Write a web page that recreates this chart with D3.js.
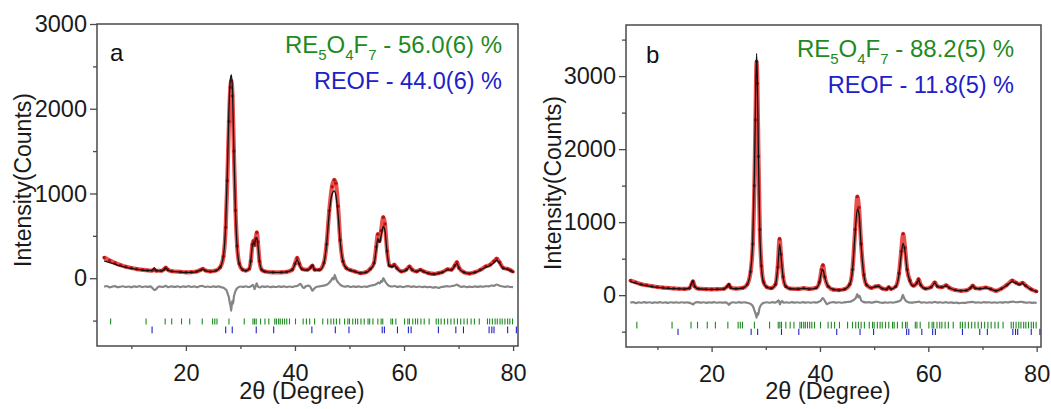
<!DOCTYPE html>
<html>
<head>
<meta charset="utf-8">
<script src="https://cdn.jsdelivr.net/npm/d3@7"></script>
<style>
  html, body { margin: 0; padding: 0; background: #fff; }
  svg { display: block; font-family: "Liberation Sans", Arial, sans-serif; }
</style>
</head>
<body>
<svg id="chart" width="1051" height="409"></svg>
<script>
// ---- data: [2theta (deg), intensity (counts)] ----

const obsA = [[5,245],[6,210],[7,180],[8,155],[9,135],[10,120],[11,108],[12,100],[13,93],[13.8,90],[14.2,100],[14.6,88],[15.5,88],[16,105],[16.3,125],[16.7,100],[17.5,82],[19,75],[20,70],[21,72],[22,80],[22.7,98],[23.1,110],[23.6,90],[24.5,80],[25.5,90],[26.3,130],[26.9,260],[27.3,600],[27.6,1150],[27.9,1850],[28.15,2250],[28.35,2330],[28.55,2150],[28.8,1500],[29.1,800],[29.4,380],[29.8,170],[30.4,100],[31,90],[31.6,110],[31.9,200],[32.2,400],[32.4,440],[32.6,390],[32.8,470],[33,540],[33.2,430],[33.5,200],[33.9,100],[34.5,80],[36,70],[37.5,70],[38.5,75],[39.5,100],[40,170],[40.4,240],[40.8,170],[41.3,110],[42.3,100],[42.9,130],[43.2,150],[43.6,100],[44.5,100],[45.3,180],[45.8,400],[46.3,800],[46.8,1080],[47.2,1160],[47.5,1120],[47.9,850],[48.3,450],[48.8,200],[49.4,120],[50.2,95],[51,80],[52,60],[53,70],[53.8,110],[54.5,180],[54.9,370],[55.2,520],[55.5,440],[55.8,560],[56.2,720],[56.5,640],[56.9,320],[57.3,150],[57.8,140],[58.2,160],[58.7,120],[59.5,80],[60.4,100],[61,140],[61.5,100],[62.3,80],[63,100],[63.6,80],[64.5,60],[65.5,50],[66.3,60],[67,70],[68,105],[68.7,100],[69.3,150],[69.7,190],[70.1,120],[71,70],[72,55],[73,70],[74,100],[75,140],[75.8,160],[76.5,200],[77,230],[77.5,190],[78.2,120],[79,110],[79.5,95],[80,75]];

const calcA = [[5,205],[6,185],[7,165],[8,145],[9,128],[10,115],[11,104],[12,96],[13,90],[13.8,92],[14.2,125],[14.5,90],[15.5,85],[16,100],[16.3,120],[16.7,95],[17.5,80],[19,72],[20,68],[21,70],[22,78],[22.7,95],[23.1,105],[23.6,88],[24.5,78],[25.5,88],[26.3,130],[26.9,270],[27.3,640],[27.6,1250],[27.9,2000],[28.15,2350],[28.35,2400],[28.55,2200],[28.8,1500],[29.1,780],[29.4,360],[29.8,165],[30.4,100],[31,88],[31.6,110],[31.9,210],[32.2,390],[32.4,420],[32.6,400],[32.8,460],[33,480],[33.2,400],[33.5,200],[33.9,100],[34.5,78],[36,70],[37.5,70],[38.5,75],[39.5,100],[40,165],[40.4,220],[40.8,160],[41.3,105],[42.3,95],[42.9,125],[43.2,155],[43.6,100],[44.5,95],[45.3,175],[45.8,400],[46.3,780],[46.8,990],[47.2,1030],[47.5,980],[47.9,760],[48.3,430],[48.8,200],[49.4,120],[50.2,92],[51,78],[52,60],[53,68],[53.8,105],[54.5,170],[54.9,340],[55.2,470],[55.5,420],[55.8,500],[56.2,610],[56.5,560],[56.9,300],[57.3,145],[57.8,135],[58.2,150],[58.7,115],[59.5,78],[60.4,95],[61,130],[61.5,98],[62.3,78],[63,95],[63.6,78],[64.5,58],[65.5,48],[66.3,58],[67,68],[68,100],[68.7,98],[69.3,145],[69.7,175],[70.1,115],[71,68],[72,55],[73,68],[74,95],[75,130],[75.8,150],[76.5,185],[77,210],[77.5,180],[78.2,115],[79,105],[79.5,90],[80,72]];

const diffA = [[5,-100],[5.5,-92],[6,-108],[6.5,-99],[7,-94],[7.5,-106],[8,-101],[8.5,-95],[9,-104],[9.5,-98],[10,-106],[10.5,-96],[11,-102],[11.5,-94],[12,-105],[12.5,-98],[13,-102],[13.5,-96],[13.8,-112],[14.3,-140],[14.8,-110],[15.2,-96],[15.7,-104],[16.3,-90],[16.8,-106],[17.3,-97],[18,-103],[18.5,-95],[19,-105],[19.5,-97],[20,-102],[20.5,-94],[21,-104],[21.5,-97],[22,-106],[22.5,-95],[23,-90],[23.5,-104],[24,-98],[24.5,-104],[25,-96],[25.5,-103],[26,-97],[26.5,-106],[26.9,-112],[27.2,-128],[27.5,-150],[27.7,-190],[27.9,-230],[28.05,-290],[28.2,-330],[28.3,-385],[28.4,-320],[28.5,-270],[28.65,-300],[28.8,-220],[29,-170],[29.3,-125],[29.6,-108],[30,-98],[30.5,-103],[31,-95],[31.5,-104],[32,-92],[32.3,-78],[32.5,-110],[32.6,-130],[32.8,-90],[33,-62],[33.2,-100],[33.6,-108],[34,-96],[34.5,-103],[35,-97],[35.5,-105],[36,-99],[36.5,-104],[37,-96],[37.5,-103],[38,-97],[38.5,-105],[39,-98],[39.5,-104],[40,-95],[40.5,-88],[41,-68],[41.3,-95],[41.6,-115],[42,-96],[42.5,-88],[42.9,-110],[43.2,-148],[43.5,-125],[43.9,-104],[44.5,-96],[45,-90],[45.5,-84],[46,-70],[46.4,-45],[46.7,-20],[46.9,5],[47.1,-15],[47.3,40],[47.5,0],[47.7,-30],[48,-55],[48.3,-75],[48.7,-92],[49.2,-100],[49.7,-94],[50.2,-104],[50.7,-96],[51.2,-103],[51.7,-97],[52.2,-105],[52.7,-98],[53.2,-102],[53.7,-90],[54.2,-84],[54.7,-76],[55,-66],[55.3,-52],[55.6,-60],[55.8,-30],[56,-45],[56.2,2],[56.4,-20],[56.6,-45],[56.9,-70],[57.3,-92],[57.8,-98],[58.3,-92],[58.8,-103],[59.3,-97],[59.8,-105],[60.3,-98],[60.8,-94],[61.3,-103],[61.8,-97],[62.3,-104],[62.8,-98],[63.3,-105],[63.8,-100],[64.3,-106],[64.8,-102],[65.3,-110],[65.8,-106],[66.3,-114],[66.8,-104],[67.3,-100],[67.8,-94],[68.3,-98],[68.8,-92],[69.3,-86],[69.7,-76],[70.1,-92],[70.5,-102],[71,-97],[71.5,-105],[72,-99],[72.5,-104],[73,-96],[73.5,-103],[74,-97],[74.5,-101],[75,-93],[75.5,-96],[76,-86],[76.5,-90],[77,-74],[77.5,-88],[78,-96],[78.5,-102],[79,-97],[79.5,-104],[80,-106]];

const obsB = [[5,200],[6,175],[7,150],[8,135],[9,122],[10,112],[11,104],[12,98],[13,92],[14,88],[15,86],[15.9,95],[16.3,150],[16.55,190],[16.9,120],[17.5,90],[19,82],[20,80],[21,82],[22.3,88],[22.9,120],[23.2,145],[23.5,105],[24.5,90],[25.8,100],[26.6,150],[27.2,320],[27.6,700],[27.9,1500],[28.1,2400],[28.3,3200],[28.45,2900],[28.65,1900],[28.9,900],[29.2,400],[29.6,180],[30.2,110],[31,95],[31.8,150],[32.2,380],[32.55,770],[32.8,560],[33.2,250],[33.7,120],[34.5,90],[36,85],[37,95],[38,85],[39.3,100],[39.9,180],[40.3,350],[40.55,410],[40.9,250],[41.5,120],[42.5,75],[43.5,70],[44.5,80],[45.5,150],[46,350],[46.5,900],[46.9,1350],[47.2,1200],[47.6,700],[48.1,280],[48.6,140],[49.5,100],[50.3,120],[50.8,125],[51.5,90],[52.3,80],[52.7,110],[53.1,85],[54,120],[54.6,300],[55,600],[55.35,840],[55.7,650],[56.1,350],[56.6,200],[57.2,130],[57.9,170],[58.2,220],[58.6,140],[59.5,90],[60.5,110],[61.2,175],[61.7,120],[62.5,110],[63.3,135],[63.9,100],[65,70],[66,60],[67,65],[67.8,100],[68.2,130],[68.7,95],[69.5,90],[70.6,105],[71.5,85],[72.5,60],[73.5,90],[74.5,140],[75.5,200],[76.2,170],[76.8,150],[77.4,170],[78,130],[79,80],[80,50]];

const calcB = [[5,185],[6,165],[7,145],[8,130],[9,118],[10,108],[11,100],[12,94],[13,89],[14,86],[15,84],[15.9,95],[16.3,160],[16.55,200],[16.9,115],[17.5,88],[19,80],[20,78],[21,80],[22.3,86],[22.9,125],[23.2,155],[23.5,100],[24.5,88],[25.8,98],[26.6,150],[27.2,340],[27.6,760],[27.9,1650],[28.1,2600],[28.3,3310],[28.45,2950],[28.65,1850],[28.9,850],[29.2,380],[29.6,170],[30.2,108],[31,93],[31.8,150],[32.2,370],[32.55,700],[32.8,540],[33.2,245],[33.7,118],[34.5,88],[36,84],[37,92],[38,84],[39.3,98],[39.9,175],[40.3,320],[40.55,345],[40.9,240],[41.5,125],[42.5,78],[43.5,70],[44.5,80],[45.5,150],[46,340],[46.5,860],[46.9,1180],[47.2,1120],[47.6,680],[48.1,280],[48.6,140],[49.5,100],[50.3,118],[50.8,120],[51.5,88],[52.3,80],[52.7,108],[53.1,84],[54,118],[54.6,290],[55,560],[55.35,710],[55.7,600],[56.1,340],[56.6,195],[57.2,128],[57.9,165],[58.2,210],[58.6,138],[59.5,88],[60.5,108],[61.2,165],[61.7,118],[62.5,108],[63.3,128],[63.9,98],[65,70],[66,60],[67,65],[67.8,98],[68.2,122],[68.7,94],[69.5,88],[70.6,100],[71.5,84],[72.5,60],[73.5,88],[74.5,135],[75.5,185],[76.2,165],[76.8,145],[77.4,160],[78,125],[79,78],[80,48]];

const diffB = [[5,-102],[5.5,-95],[6,-108],[6.5,-98],[7,-104],[7.5,-95],[8,-103],[8.5,-97],[9,-105],[9.5,-98],[10,-103],[10.5,-96],[11,-104],[11.5,-98],[12,-105],[12.5,-97],[13,-103],[13.5,-98],[14,-104],[14.5,-97],[15,-103],[15.5,-98],[16,-106],[16.4,-118],[16.6,-128],[16.9,-104],[17.4,-96],[18,-103],[18.5,-97],[19,-105],[19.5,-98],[20,-103],[20.5,-96],[21,-104],[21.5,-98],[22,-103],[22.5,-100],[23,-115],[23.2,-132],[23.5,-108],[24,-97],[24.5,-104],[25,-96],[25.5,-103],[26,-97],[26.5,-104],[26.9,-112],[27.3,-125],[27.6,-150],[27.8,-185],[28,-230],[28.15,-260],[28.3,-310],[28.45,-245],[28.6,-270],[28.8,-190],[29,-150],[29.3,-120],[29.7,-104],[30.2,-97],[30.7,-104],[31.2,-96],[31.7,-102],[32.1,-88],[32.4,-70],[32.6,-128],[32.8,-95],[33,-80],[33.3,-104],[33.8,-98],[34.3,-104],[34.8,-96],[35.3,-103],[35.8,-97],[36.3,-104],[36.8,-96],[37.3,-103],[37.8,-97],[38.3,-104],[38.8,-97],[39.3,-102],[39.8,-90],[40.2,-72],[40.5,-40],[40.7,-55],[41,-92],[41.3,-125],[41.6,-112],[42,-100],[42.5,-96],[43,-103],[43.5,-97],[44,-104],[44.5,-98],[45,-94],[45.5,-90],[46,-76],[46.4,-55],[46.7,-25],[46.9,15],[47.1,-30],[47.3,-10],[47.6,-70],[48,-92],[48.5,-100],[49,-96],[49.5,-103],[50,-96],[50.5,-88],[51,-98],[51.5,-105],[52,-98],[52.5,-104],[53,-97],[53.5,-103],[54,-95],[54.5,-85],[54.9,-70],[55.1,-40],[55.3,5],[55.5,-35],[55.7,-60],[56,-85],[56.4,-98],[57,-102],[57.5,-97],[58,-94],[58.3,-88],[58.7,-103],[59.2,-97],[59.7,-104],[60.2,-98],[60.7,-103],[61.2,-92],[61.7,-102],[62.2,-97],[62.7,-104],[63.2,-96],[63.7,-104],[64.2,-99],[64.7,-106],[65.2,-101],[65.7,-110],[66.2,-104],[66.7,-107],[67.2,-100],[67.7,-96],[68.2,-92],[68.7,-103],[69.2,-98],[69.7,-104],[70.2,-96],[70.7,-100],[71.2,-97],[71.7,-104],[72.2,-98],[72.7,-104],[73.2,-97],[73.7,-102],[74.2,-95],[74.7,-100],[75.2,-92],[75.7,-88],[76.2,-97],[76.7,-94],[77.2,-90],[77.7,-99],[78.2,-104],[78.7,-98],[79.2,-105],[79.6,-101],[80,-108]];

// Bragg reflection positions (2theta) for the two phases
const ticksRE5O4F7 = [6.2,12.7,16.2,17.4,19.2,20.7,23,24.9,25.3,25.7,27.9,30.7,32.3,32.6,32.9,33.7,34.5,35.2,36.3,36.6,37,37.3,37.7,38.1,38.5,39,40.1,41.5,42.1,42.7,43.6,45.1,46,46.6,47.1,47.6,48.2,49.1,49.7,50,50.6,51.1,51.5,52.1,52.7,53.4,53.7,54.3,55.2,55.8,56.1,57.6,57.9,58.5,60.1,60.7,61,61.6,62.1,62.5,63.1,63.7,64.6,65.9,66.3,66.8,67.4,68,68.6,69.2,69.8,70.4,71,71.6,72.3,72.9,73.8,75.3,75.7,76.2,76.7,77.1,77.6,78,78.5,79,79.4,79.9];
const ticksREOF = [13.8,27.3,28.5,32.9,36.1,43.1,47.4,49.9,56,56.4,58.8,60.8,61.3,66.3,69.5,70.9,75.6,76.1,76.5,79,80.6];

const xMajor = [20, 40, 60, 80];
const xMinor = [10, 30, 50, 70];
const yMajorA = [0, 1000, 2000, 3000];
const yMinorA = [-500, 500, 1500, 2500];
const yMajorB = [0, 1000, 2000, 3000];
const yMinorB = [-500, 500, 1500, 2500, 3500];

const panelLabels = ['a', 'b'];
// phase name pieces: [text, isSubscript]
const phaseA = [['RE', false], ['5', true], ['O', false], ['4', true], ['F', false], ['7', true]];
const phaseB = 'REOF';
const fractionsA = ['56.0(6)', '44.0(6)'];
const fractionsB = ['88.2(5)', '11.8(5)'];

// ---- drawing ----
const svg = d3.select('#chart');
const green = '#1f8a22';
const blue = '#2020c8';
const ink = '#1a1a1a';
const font = '"Liberation Sans", Arial, sans-serif';

const panels = [
  {
    label: panelLabels[0], obs: obsA, calc: calcA, diff: diffA,
    xDomain: [3.7, 80.9], yDomain: [-800, 3000],
    yMajor: yMajorA, yMinor: yMinorA, fractions: fractionsA,
    left: 97, top: 24, right: 518, bottom: 346,
    tickRows: [[-475, -545], [-570, -650]],
    legendX: 502, legendY: [53, 88.5], labelXY: [110, 61],
    yTitleX: 31, yTitleY: 180, xTitleX: 302
  },
  {
    label: panelLabels[1], obs: obsB, calc: calcB, diff: diffB,
    xDomain: [4.2, 80.8], yDomain: [-710, 3700],
    yMajor: yMajorB, yMinor: yMinorB, fractions: fractionsB,
    left: 626, top: 25, right: 1041, bottom: 347,
    tickRows: [[-365, -455], [-460, -545]],
    legendX: 1014, legendY: [56.5, 93], labelXY: [646, 63],
    yTitleX: 561, yTitleY: 183, xTitleX: 828
  }
];

panels.forEach(drawPanel);

function drawPanel(p) {
  const x = d3.scaleLinear().domain(p.xDomain).range([p.left, p.right]);
  const y = d3.scaleLinear().domain(p.yDomain).range([p.bottom, p.top]);
  const g = svg.append('g');

  const line = d3.line()
    .x(d => x(d[0]))
    .y(d => y(d[1]))
    .curve(d3.curveMonotoneX);

  // Bragg tick rows
  [[ticksRE5O4F7, green], [ticksREOF, blue]].forEach(([vals, col], i) => {
    const [y0, y1] = p.tickRows[i];
    g.append('g').selectAll('line')
      .data(vals)
      .enter()
      .append('line')
      .attr('x1', d => x(d)).attr('x2', d => x(d))
      .attr('y1', y(y0)).attr('y2', y(y1))
      .attr('stroke', col)
      .attr('stroke-width', 1.1);
  });

  // difference curve
  g.append('path')
    .datum(p.diff)
    .attr('d', line)
    .attr('fill', 'none')
    .attr('stroke', '#858585')
    .attr('stroke-width', 2.2)
    .attr('stroke-linejoin', 'round');

  // observed (red band of points)
  g.append('path')
    .datum(p.obs)
    .attr('d', line)
    .attr('fill', 'none')
    .attr('stroke', '#e3231f')
    .attr('stroke-width', 4.2)
    .attr('stroke-linejoin', 'round')
    .attr('opacity', 0.8);
  g.append('g').selectAll('circle')
    .data(p.obs)
    .enter()
    .append('circle')
    .attr('cx', d => x(d[0]))
    .attr('cy', d => y(d[1]))
    .attr('r', 1.7)
    .attr('fill', '#b51212');

  // calculated
  g.append('path')
    .datum(p.calc)
    .attr('d', line)
    .attr('fill', 'none')
    .attr('stroke', '#111')
    .attr('stroke-width', 1.3);

  // frame
  g.append('rect')
    .attr('x', p.left).attr('y', p.top)
    .attr('width', p.right - p.left).attr('height', p.bottom - p.top)
    .attr('fill', 'none')
    .attr('stroke', '#4a4a4a')
    .attr('stroke-width', 1.5);

  // axes
  g.append('g')
    .attr('transform', `translate(${p.left},0)`)
    .call(d3.axisLeft(y).tickValues(p.yMajor).tickSize(7).tickPadding(3).tickFormat(d3.format('d')));
  g.append('g')
    .attr('transform', `translate(${p.left},0)`)
    .call(d3.axisLeft(y).tickValues(p.yMinor).tickSize(4).tickFormat(''));
  g.append('g')
    .attr('transform', `translate(0,${p.bottom})`)
    .call(d3.axisBottom(x).tickValues(xMajor).tickSize(5).tickPadding(13));
  g.append('g')
    .attr('transform', `translate(0,${p.bottom})`)
    .call(d3.axisBottom(x).tickValues(xMinor).tickSize(3).tickFormat(''));

  g.selectAll('.domain').remove();
  g.selectAll('.tick line').attr('stroke', '#4a4a4a').attr('stroke-width', 1.3);
  g.selectAll('.tick text').attr('font-size', 23.5).attr('fill', ink)
    .attr('font-family', font);

  // axis titles
  g.append('text')
    .attr('transform', `translate(${p.yTitleX},${p.yTitleY}) rotate(-90)`)
    .attr('text-anchor', 'middle')
    .attr('font-size', 23)
    .attr('fill', ink)
    .text('Intensity(Counts)');
  g.append('text')
    .attr('x', p.xTitleX).attr('y', 399)
    .attr('text-anchor', 'middle')
    .attr('font-size', 23.5)
    .attr('fill', ink)
    .text('2θ (Degree)');

  // panel letter
  g.append('text')
    .attr('x', p.labelXY[0]).attr('y', p.labelXY[1])
    .attr('font-size', 24)
    .attr('fill', '#111')
    .text(p.label);

  // phase fractions
  const l1 = g.append('text')
    .attr('x', p.legendX).attr('y', p.legendY[0])
    .attr('text-anchor', 'end')
    .attr('font-size', 24)
    .attr('fill', green);
  let wasSub = false;
  phaseA.forEach(([s, sub]) => {
    const dy = sub ? 7 : (wasSub ? -7 : 0);
    l1.append('tspan').attr('dy', dy).attr('font-size', sub ? 15 : 24).text(s);
    wasSub = sub;
  });
  l1.append('tspan').attr('dy', wasSub ? -7 : 0).text(` - ${p.fractions[0]} %`);

  g.append('text')
    .attr('x', p.legendX).attr('y', p.legendY[1])
    .attr('text-anchor', 'end')
    .attr('font-size', 23.5)
    .attr('fill', blue)
    .text(`${phaseB} - ${p.fractions[1]} %`);
}
</script>
</body>
</html>
